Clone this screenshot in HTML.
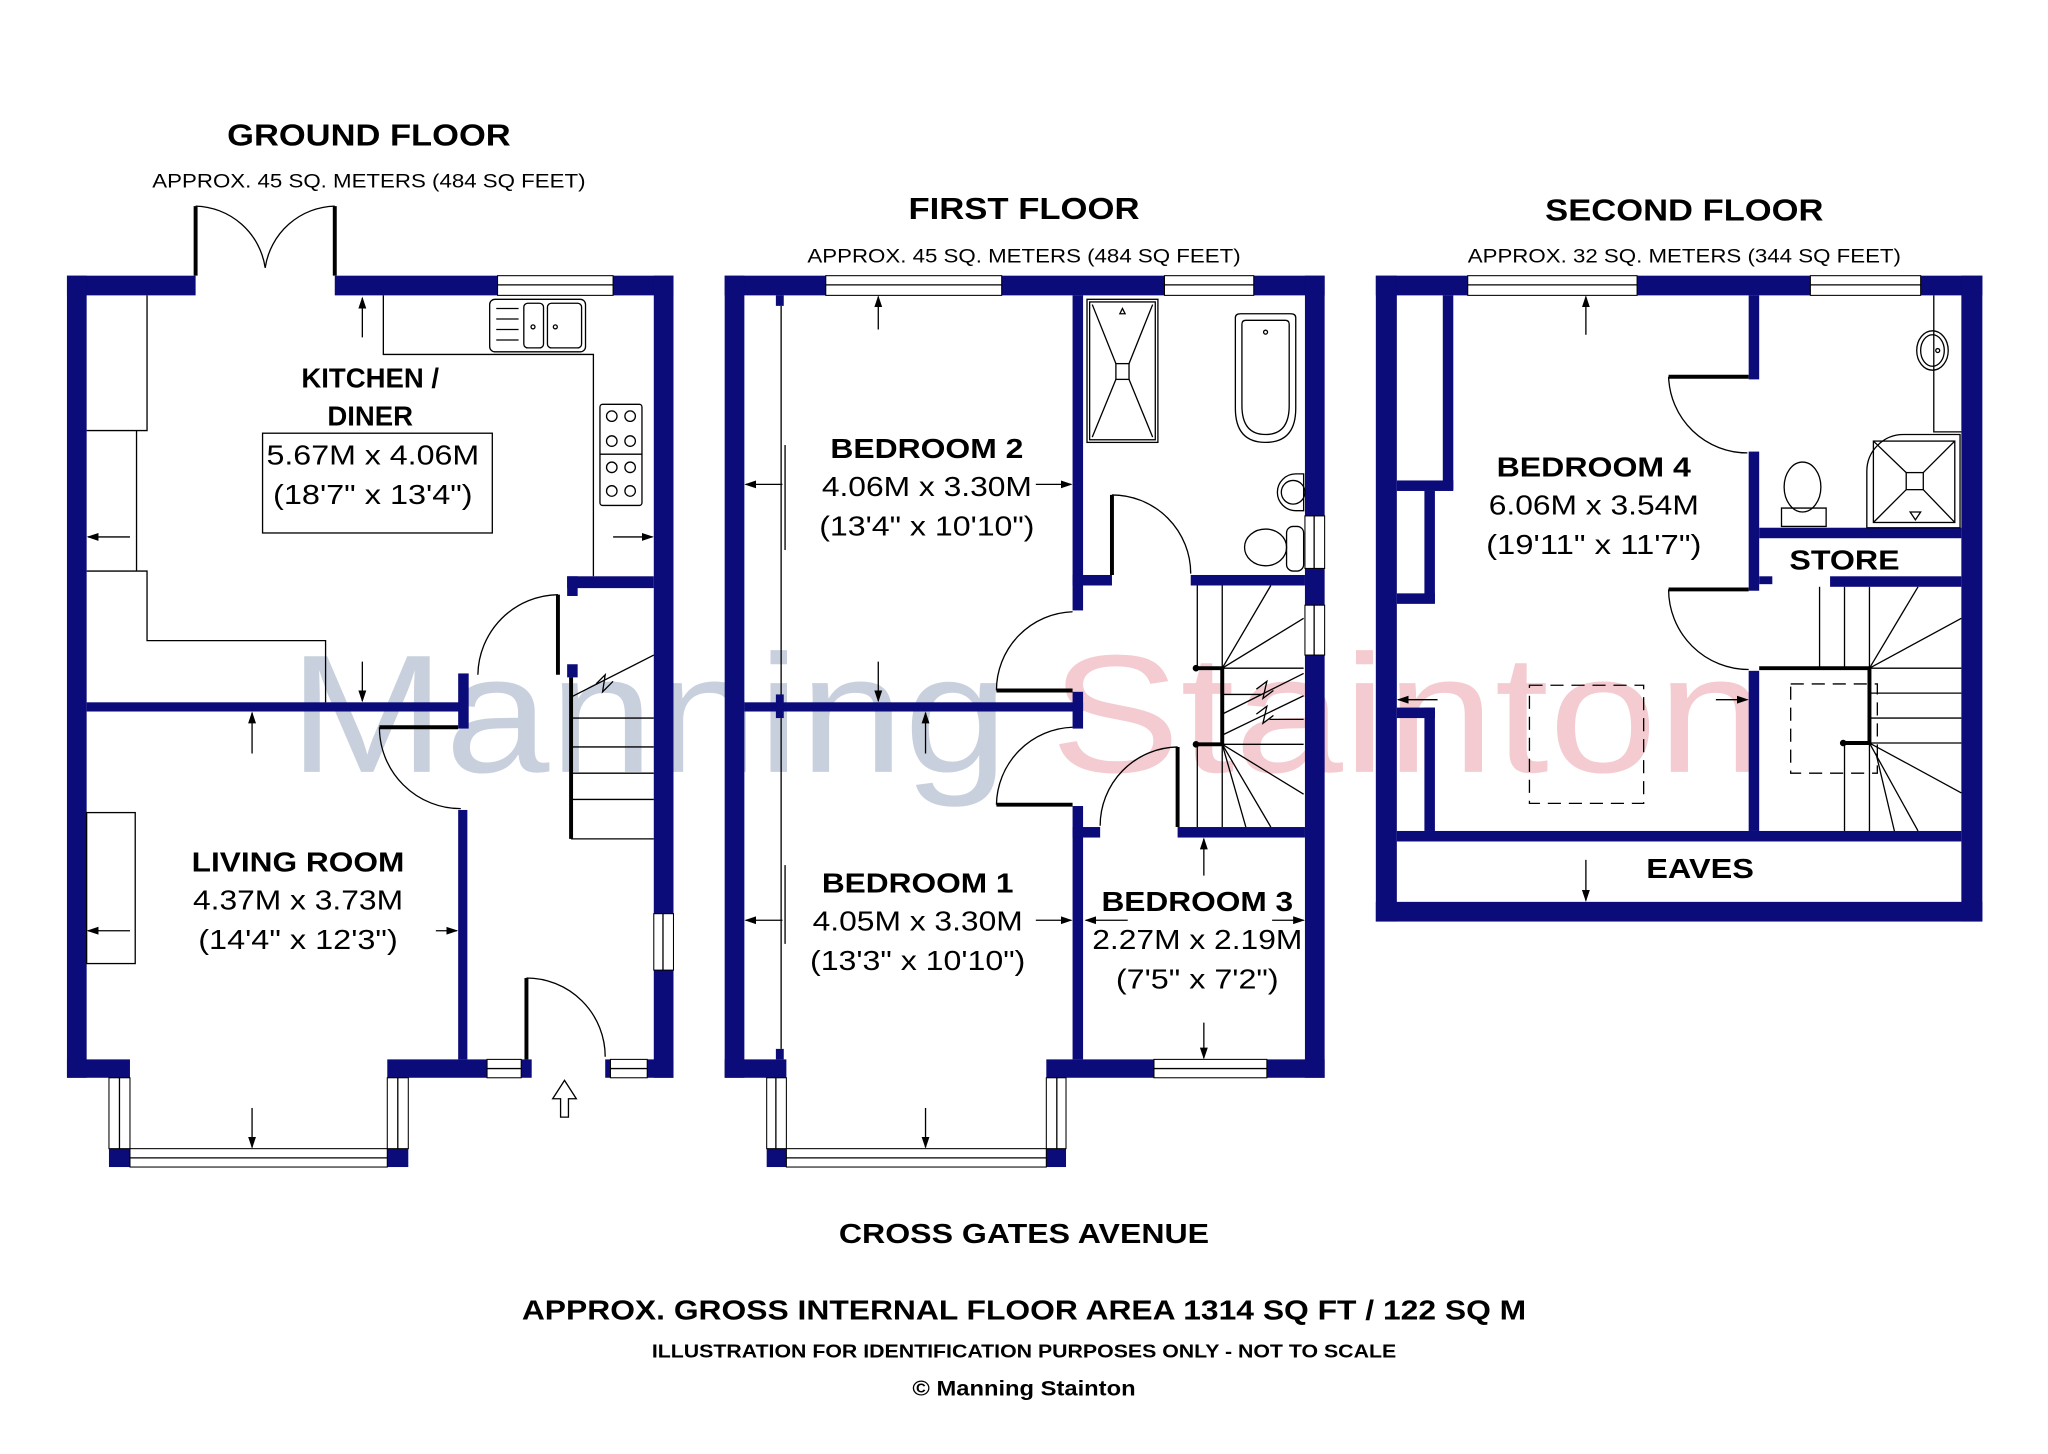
<!DOCTYPE html>
<html><head><meta charset="utf-8"><style>
html,body{margin:0;padding:0;background:#fff;}
svg{display:block;}
text{font-family:"Liberation Sans",Arial,sans-serif;fill:#000;}
.b{font-weight:bold;}
.w{fill:#0b0b7a;}
.ln{stroke:#000;stroke-width:1;fill:none;}
.th{stroke:#000;stroke-width:3;fill:none;}
.win{fill:#fff;stroke:#000;stroke-width:0.8;}
</style></head><body>
<svg width="2048" height="1454" viewBox="0 0 1560 1107.6" preserveAspectRatio="none" xmlns="http://www.w3.org/2000/svg">
<defs>
<marker id="ar" markerWidth="9" markerHeight="8" refX="8" refY="4" orient="auto" markerUnits="userSpaceOnUse">
<path d="M0,1 L9,4 L0,7 z" fill="#000"/></marker>
</defs>
<rect width="1560" height="1107.6" fill="#fff"/>

<!-- watermark -->
<text x="220" y="588" font-size="128" style="fill:#c9d0dd" textLength="548" lengthAdjust="spacingAndGlyphs">Manning</text>
<text x="800" y="588" font-size="128" style="fill:#f3cbd0" textLength="545" lengthAdjust="spacingAndGlyphs">Stainton</text>

<g transform="translate(-1,-1)">
<!-- ================= GROUND FLOOR ================= -->
<text x="282" y="112" font-size="23" class="b" text-anchor="middle" textLength="216" lengthAdjust="spacingAndGlyphs">GROUND FLOOR</text>
<text x="282" y="144" font-size="15" text-anchor="middle" textLength="330" lengthAdjust="spacingAndGlyphs">APPROX. 45 SQ. METERS (484 SQ FEET)</text>

<g class="w">
<rect x="52" y="211" width="98" height="15"/>
<rect x="256" y="211" width="124" height="15"/>
<rect x="468" y="211" width="46" height="15"/>
<rect x="52" y="211" width="15" height="611"/>
<rect x="499" y="211" width="15" height="486"/>
<rect x="499" y="740" width="15" height="82"/>
<rect x="52" y="808" width="48" height="14"/>
<rect x="84" y="876" width="16" height="14"/>
<rect x="296" y="876" width="16" height="14"/>
<rect x="296" y="808" width="76" height="14"/>
<rect x="398" y="808" width="8" height="14"/>
<rect x="494" y="808" width="20" height="14"/>
<rect x="462" y="808" width="4" height="14"/>
<rect x="67" y="536" width="290" height="7"/>
<rect x="350" y="514" width="8" height="42"/>
<rect x="350" y="618" width="7" height="190"/>
<rect x="433" y="440" width="66" height="9"/>
<rect x="433" y="440" width="8" height="15"/>
<rect x="433" y="507" width="8" height="10"/>
</g>
<rect class="win" x="380" y="211" width="88" height="15"/><line class="ln" x1="380" y1="218" x2="468" y2="218"/>
<rect class="win" x="499" y="697" width="15" height="43"/><line class="ln" x1="506" y1="697" x2="506" y2="740"/>
<rect class="win" x="372" y="808" width="26" height="14"/><line class="ln" x1="372" y1="815" x2="398" y2="815"/>
<rect class="win" x="466" y="808" width="28" height="14"/><line class="ln" x1="466" y1="815" x2="494" y2="815"/>
<rect class="win" x="84" y="822" width="16" height="54"/><line class="ln" x1="92" y1="822" x2="92" y2="876"/>
<rect class="win" x="296" y="822" width="16" height="54"/><line class="ln" x1="304" y1="822" x2="304" y2="876"/>
<rect class="win" x="100" y="876" width="196" height="14"/><line class="ln" x1="100" y1="883" x2="296" y2="883"/>
<line class="th" x1="150" y1="158" x2="150" y2="211"/>
<line class="th" x1="256" y1="158" x2="256" y2="211"/>
<path class="ln" d="M150,158 A55,55 0 0 1 203,205"/>
<path class="ln" d="M256,158 A55,55 0 0 0 203,205"/>
<line class="th" x1="290" y1="555" x2="350" y2="555"/>
<path class="ln" d="M290,555 A62,62 0 0 0 352,617"/>
<line class="th" x1="426" y1="454" x2="426" y2="515"/>
<path class="ln" d="M426,454 A62,62 0 0 0 365,515"/>
<line class="th" x1="402" y1="746" x2="402" y2="808"/>
<path class="ln" d="M402,746 A60,60 0 0 1 462,806"/>
<path class="ln" d="M113,226 V329 H67 M105,329 V436 H67 M105,436 H113 V489 H249 V536"/>
<path class="ln" d="M293,226 V271 H453 V440"/>
<rect class="ln" x="374" y="229" width="73" height="40" rx="4"/>
<path class="ln" d="M379,236 H396 M379,244 H396 M379,252 H396 M379,260 H396"/>
<rect class="ln" x="400" y="232" width="15" height="34" rx="3"/>
<rect class="ln" x="418" y="232" width="26" height="34" rx="3"/>
<circle class="ln" cx="407" cy="250" r="1.5"/><circle class="ln" cx="424" cy="250" r="1.5"/>
<rect class="ln" x="458" y="309" width="32" height="77" rx="2"/>
<line class="ln" x1="458" y1="347" x2="490" y2="347"/>
<g class="ln"><circle cx="467" cy="318" r="4"/><circle cx="481" cy="318" r="4"/><circle cx="467" cy="337" r="4"/><circle cx="481" cy="337" r="4"/>
<circle cx="467" cy="357" r="4"/><circle cx="481" cy="357" r="4"/><circle cx="467" cy="375" r="4"/><circle cx="481" cy="375" r="4"/></g>
<rect class="ln" x="201" y="331" width="175" height="76"/>
<rect class="ln" x="67" y="620" width="37" height="115"/>
<line class="th" x1="436" y1="517" x2="436" y2="640"/>
<g class="ln"><path d="M436,548 H499 M436,570 H499 M436,590 H499 M436,610 H499 M436,640 H499"/>
<path d="M436,532 L499,500 M455,522 L462,515 L460,528 L468,520"/></g>
<g class="ln" marker-end="url(#ar)">
<line x1="277" y1="258" x2="277" y2="228"/>
<line x1="100" y1="410" x2="68" y2="410"/>
<line x1="468" y1="410" x2="498" y2="410"/>
<line x1="277" y1="505" x2="277" y2="535"/>
<line x1="193" y1="575" x2="193" y2="544"/>
<line x1="100" y1="710" x2="68" y2="710"/>
<line x1="333" y1="710" x2="349" y2="710"/>
<line x1="193" y1="845" x2="193" y2="875"/>
</g>
<path class="ln" d="M428,852 H434 V838 H440 L431,824 L422,838 H428 Z"/>
<text x="283" y="296" font-size="21" class="b" text-anchor="middle">KITCHEN /</text>
<text x="283" y="325" font-size="21" class="b" text-anchor="middle">DINER</text>
<text x="285" y="355" font-size="21" text-anchor="middle" textLength="162" lengthAdjust="spacingAndGlyphs">5.67M x 4.06M</text>
<text x="285" y="385" font-size="21" text-anchor="middle" textLength="152" lengthAdjust="spacingAndGlyphs">(18'7" x 13'4")</text>
<text x="228" y="665" font-size="21" class="b" text-anchor="middle" textLength="162" lengthAdjust="spacingAndGlyphs">LIVING ROOM</text>
<text x="228" y="694" font-size="21" text-anchor="middle" textLength="160" lengthAdjust="spacingAndGlyphs">4.37M x 3.73M</text>
<text x="228" y="724" font-size="21" text-anchor="middle" textLength="152" lengthAdjust="spacingAndGlyphs">(14'4" x 12'3")</text>

<!-- ================= FIRST FLOOR ================= -->
<text x="781" y="168" font-size="23" class="b" text-anchor="middle" textLength="176" lengthAdjust="spacingAndGlyphs">FIRST FLOOR</text>
<text x="781" y="201" font-size="15" text-anchor="middle" textLength="330" lengthAdjust="spacingAndGlyphs">APPROX. 45 SQ. METERS (484 SQ FEET)</text>
<g class="w">
<rect x="553" y="211" width="77" height="15"/>
<rect x="764" y="211" width="124" height="15"/>
<rect x="956" y="211" width="54" height="15"/>
<rect x="553" y="211" width="15" height="611"/>
<rect x="995" y="211" width="15" height="183"/>
<rect x="995" y="434" width="15" height="28"/>
<rect x="995" y="500" width="15" height="322"/>
<rect x="553" y="808" width="47" height="14"/>
<rect x="585" y="876" width="15" height="14"/>
<rect x="798" y="876" width="15" height="14"/>
<rect x="798" y="808" width="82" height="14"/>
<rect x="966" y="808" width="44" height="14"/>
<rect x="818" y="226" width="8" height="240"/>
<rect x="818" y="439" width="30" height="8"/>
<rect x="908" y="439" width="87" height="8"/>
<rect x="568" y="536" width="258" height="7"/>
<rect x="818" y="528" width="8" height="28"/>
<rect x="818" y="615" width="8" height="193"/>
<rect x="818" y="631" width="21" height="8"/>
<rect x="898" y="631" width="97" height="8"/>
<rect x="592" y="226" width="6" height="8"/>
<rect x="592" y="530" width="6" height="18"/>
<rect x="592" y="800" width="6" height="8"/>
</g>
<rect class="win" x="630" y="211" width="134" height="15"/><line class="ln" x1="630" y1="218" x2="764" y2="218"/>
<rect class="win" x="888" y="211" width="68" height="15"/><line class="ln" x1="888" y1="218" x2="956" y2="218"/>
<rect class="win" x="995" y="394" width="15" height="40"/><line class="ln" x1="1002" y1="394" x2="1002" y2="434"/>
<rect class="win" x="995" y="462" width="15" height="38"/><line class="ln" x1="1002" y1="462" x2="1002" y2="500"/>
<rect class="win" x="880" y="808" width="86" height="14"/><line class="ln" x1="880" y1="815" x2="966" y2="815"/>
<rect class="win" x="585" y="822" width="15" height="54"/><line class="ln" x1="592" y1="822" x2="592" y2="876"/>
<rect class="win" x="798" y="822" width="15" height="54"/><line class="ln" x1="806" y1="822" x2="806" y2="876"/>
<rect class="win" x="600" y="876" width="198" height="14"/><line class="ln" x1="600" y1="883" x2="798" y2="883"/>
<g class="ln"><line x1="596" y1="234" x2="596" y2="530"/><line x1="599" y1="340" x2="599" y2="420"/>
<line x1="596" y1="548" x2="596" y2="800"/><line x1="599" y1="660" x2="599" y2="720"/></g>
<line class="th" x1="848" y1="378" x2="848" y2="439"/>
<path class="ln" d="M848,378 A60,60 0 0 1 908,438"/>
<line class="th" x1="760" y1="527" x2="818" y2="527"/>
<path class="ln" d="M760,527 A60,60 0 0 1 818,467"/>
<line class="th" x1="760" y1="614" x2="818" y2="614"/>
<path class="ln" d="M760,614 A60,60 0 0 1 818,555"/>
<line class="th" x1="898" y1="570" x2="898" y2="631"/>
<path class="ln" d="M898,570 A60,60 0 0 0 839,630"/>
<rect class="ln" x="829" y="229" width="54" height="109"/>
<rect class="ln" x="831" y="231" width="50" height="105"/>
<rect class="ln" x="851" y="278" width="10" height="12"/>
<path class="ln" d="M833,233 L851,278 M879,233 L861,278 M833,334 L851,290 M879,334 L861,290"/>
<path class="ln" d="M854,240 L856,236 L858,240 Z"/>
<path class="ln" d="M942,243 Q942,240 946,240 H984 Q988,240 988,243 V312 Q988,338 965,338 Q942,338 942,312 Z"/>
<path class="ln" d="M947,248 Q947,245 950,245 H980 Q983,245 983,248 V310 Q983,332 965,332 Q947,332 947,310 Z"/>
<circle class="ln" cx="965" cy="254" r="1.5"/>
<path class="ln" d="M994,362 H988 A14,14 0 0 0 988,390 H994 Z"/>
<circle class="ln" cx="986" cy="376" r="9"/>
<ellipse class="ln" cx="965" cy="418" rx="16" ry="14"/>
<rect class="ln" x="981" y="402" width="13" height="34" rx="5"/>
<g class="ln">
<line x1="913" y1="447" x2="913" y2="510"/><line x1="932" y1="447" x2="932" y2="510"/>
<line x1="932" y1="510" x2="969" y2="447"/><line x1="932" y1="510" x2="994" y2="472"/>
<line x1="932" y1="510" x2="994" y2="510"/>
<line x1="932" y1="530" x2="962" y2="530"/><line x1="932" y1="545" x2="994" y2="514"/>
<line x1="932" y1="561" x2="994" y2="531"/><line x1="968" y1="549" x2="994" y2="549"/>
<path d="M958,526 L966,520 L963,533 L971,527 M958,545 L966,539 L963,552 L971,546"/>
<line x1="932" y1="568" x2="994" y2="568"/>
<line x1="932" y1="568" x2="994" y2="606"/><line x1="932" y1="568" x2="969" y2="631"/><line x1="932" y1="568" x2="950" y2="631"/>
<line x1="913" y1="568" x2="913" y2="631"/><line x1="932" y1="568" x2="932" y2="631"/>
</g>
<path class="th" d="M912,510 H932 V568 H912"/>
<circle cx="912" cy="510" r="2.5"/><circle cx="912" cy="568" r="2.5"/>
<g class="ln" marker-end="url(#ar)">
<line x1="670" y1="252" x2="670" y2="227"/>
<line x1="597" y1="370" x2="569" y2="370"/>
<line x1="790" y1="370" x2="817" y2="370"/>
<line x1="670" y1="505" x2="670" y2="535"/>
<line x1="706" y1="575" x2="706" y2="544"/>
<line x1="597" y1="702" x2="569" y2="702"/>
<line x1="790" y1="702" x2="817" y2="702"/>
<line x1="706" y1="845" x2="706" y2="875"/>
<line x1="918" y1="668" x2="918" y2="640"/>
<line x1="860" y1="702" x2="828" y2="702"/>
<line x1="970" y1="702" x2="994" y2="702"/>
<line x1="918" y1="780" x2="918" y2="807"/>
</g>
<text x="707" y="350" font-size="21" class="b" text-anchor="middle" textLength="147" lengthAdjust="spacingAndGlyphs">BEDROOM 2</text>
<text x="707" y="379" font-size="21" text-anchor="middle" textLength="160" lengthAdjust="spacingAndGlyphs">4.06M x 3.30M</text>
<text x="707" y="409" font-size="21" text-anchor="middle" textLength="164" lengthAdjust="spacingAndGlyphs">(13'4" x 10'10")</text>
<text x="700" y="681" font-size="21" class="b" text-anchor="middle" textLength="146" lengthAdjust="spacingAndGlyphs">BEDROOM 1</text>
<text x="700" y="710" font-size="21" text-anchor="middle" textLength="160" lengthAdjust="spacingAndGlyphs">4.05M x 3.30M</text>
<text x="700" y="740" font-size="21" text-anchor="middle" textLength="164" lengthAdjust="spacingAndGlyphs">(13'3" x 10'10")</text>
<text x="913" y="695" font-size="21" class="b" text-anchor="middle" textLength="146" lengthAdjust="spacingAndGlyphs">BEDROOM 3</text>
<text x="913" y="724" font-size="21" text-anchor="middle" textLength="160" lengthAdjust="spacingAndGlyphs">2.27M x 2.19M</text>
<text x="913" y="754" font-size="21" text-anchor="middle" textLength="124" lengthAdjust="spacingAndGlyphs">(7'5" x 7'2")</text>
</g>

<!-- ================= SECOND FLOOR ================= -->
<g transform="translate(-5,-1)">
<text x="1288" y="169" font-size="23" class="b" text-anchor="middle" textLength="212" lengthAdjust="spacingAndGlyphs">SECOND FLOOR</text>
<text x="1288" y="201" font-size="15" text-anchor="middle" textLength="330" lengthAdjust="spacingAndGlyphs">APPROX. 32 SQ. METERS (344 SQ FEET)</text>
<g class="w">
<rect x="1053" y="211" width="70" height="15"/>
<rect x="1252" y="211" width="132" height="15"/>
<rect x="1468" y="211" width="47" height="15"/>
<rect x="1053" y="211" width="16" height="492"/>
<rect x="1499" y="211" width="16" height="492"/>
<rect x="1053" y="688" width="462" height="15"/>
<rect x="1069" y="634" width="430" height="8"/>
<rect x="1104" y="226" width="8" height="148"/>
<rect x="1069" y="367" width="43" height="8"/>
<rect x="1090" y="375" width="8" height="85"/>
<rect x="1069" y="453" width="29" height="8"/>
<rect x="1069" y="540" width="29" height="8"/>
<rect x="1090" y="540" width="8" height="94"/>
<rect x="1337" y="226" width="8" height="64"/>
<rect x="1337" y="345" width="8" height="106"/>
<rect x="1337" y="512" width="8" height="122"/>
<rect x="1345" y="403" width="154" height="8"/>
<rect x="1345" y="440" width="10" height="6"/>
<rect x="1399" y="440" width="100" height="8"/>
</g>
<rect class="win" x="1123" y="211" width="129" height="15"/><line class="ln" x1="1123" y1="218" x2="1252" y2="218"/>
<rect class="win" x="1384" y="211" width="84" height="15"/><line class="ln" x1="1384" y1="218" x2="1468" y2="218"/>
<line class="th" x1="1276" y1="288" x2="1337" y2="288"/>
<path class="ln" d="M1276,288 A60,60 0 0 0 1336,346"/>
<line class="th" x1="1276" y1="450" x2="1337" y2="450"/>
<path class="ln" d="M1276,450 A61,61 0 0 0 1337,511"/>
<path class="ln" d="M1478,226 V330 H1499"/>
<ellipse class="ln" cx="1477" cy="268" rx="12" ry="15"/>
<ellipse class="ln" cx="1477" cy="268" rx="9" ry="12"/>
<circle class="ln" cx="1481" cy="268" r="1.5"/>
<ellipse class="ln" cx="1378" cy="372" rx="14" ry="19"/>
<path class="ln" d="M1362,388 H1396 V402 H1362 Z"/>
<path class="ln" d="M1427,403 V360 A28,28 0 0 1 1455,332 H1498 V403 Z"/>
<rect class="ln" x="1432" y="337" width="62" height="62"/>
<rect class="ln" x="1457" y="361" width="13" height="13"/>
<path class="ln" d="M1432,337 L1457,361 M1494,337 L1470,361 M1432,399 L1457,374 M1494,399 L1470,374"/>
<path class="ln" d="M1460,391 H1468 L1464,397 Z"/>
<g class="ln">
<line x1="1391" y1="448" x2="1391" y2="510"/><line x1="1410" y1="448" x2="1410" y2="510"/><line x1="1429" y1="448" x2="1429" y2="510"/>
<line x1="1429" y1="510" x2="1466" y2="448"/><line x1="1429" y1="510" x2="1499" y2="472"/>
<line x1="1429" y1="510" x2="1499" y2="510"/>
<line x1="1429" y1="529" x2="1499" y2="529"/><line x1="1429" y1="548" x2="1499" y2="548"/><line x1="1429" y1="567" x2="1499" y2="567"/>
<line x1="1429" y1="567" x2="1499" y2="605"/><line x1="1429" y1="567" x2="1466" y2="634"/><line x1="1434" y1="575" x2="1448" y2="634"/>
<line x1="1410" y1="567" x2="1410" y2="634"/><line x1="1429" y1="567" x2="1429" y2="634"/>
</g>
<path class="th" d="M1345,510 H1429 V567 H1409"/>
<circle cx="1409" cy="567" r="2.5"/>
<g class="ln" stroke-dasharray="10,6">
<rect x="1170" y="523" width="87" height="90"/>
<rect x="1369" y="522" width="66" height="68"/>
</g>
<g class="ln" marker-end="url(#ar)">
<line x1="1213" y1="256" x2="1213" y2="227"/>
<line x1="1100" y1="534" x2="1070" y2="534"/>
<line x1="1312" y1="534" x2="1336" y2="534"/>
<line x1="1213" y1="656" x2="1213" y2="687"/>
</g>
<text x="1219" y="364" font-size="21" class="b" text-anchor="middle" textLength="148" lengthAdjust="spacingAndGlyphs">BEDROOM 4</text>
<text x="1219" y="393" font-size="21" text-anchor="middle" textLength="160" lengthAdjust="spacingAndGlyphs">6.06M x 3.54M</text>
<text x="1219" y="423" font-size="21" text-anchor="middle" textLength="164" lengthAdjust="spacingAndGlyphs">(19'11" x 11'7")</text>
<text x="1410" y="435" font-size="21" class="b" text-anchor="middle" textLength="84" lengthAdjust="spacingAndGlyphs">STORE</text>
<text x="1300" y="670" font-size="21" class="b" text-anchor="middle" textLength="82" lengthAdjust="spacingAndGlyphs">EAVES</text>
</g>

<!-- bottom text -->
<text x="780" y="947" font-size="21" class="b" text-anchor="middle" textLength="282" lengthAdjust="spacingAndGlyphs">CROSS GATES AVENUE</text>
<text x="780" y="1005" font-size="21" class="b" text-anchor="middle" textLength="765" lengthAdjust="spacingAndGlyphs">APPROX. GROSS INTERNAL FLOOR AREA 1314 SQ FT / 122 SQ M</text>
<text x="780" y="1034" font-size="14" class="b" text-anchor="middle" textLength="567" lengthAdjust="spacingAndGlyphs">ILLUSTRATION FOR IDENTIFICATION PURPOSES ONLY - NOT TO SCALE</text>
<text x="780" y="1063" font-size="16" class="b" text-anchor="middle" textLength="170" lengthAdjust="spacingAndGlyphs">© Manning Stainton</text>
</svg>
</body></html>
